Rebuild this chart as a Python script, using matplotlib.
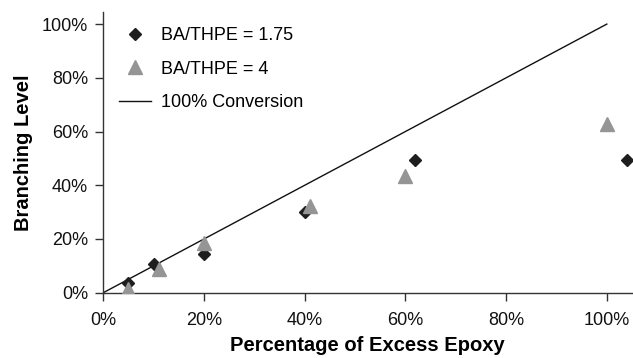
import matplotlib
matplotlib.use("Agg")
import matplotlib.pyplot as plt
from matplotlib.ticker import FuncFormatter

plt.rcParams['font.family'] = ['Liberation Sans', 'DejaVu Sans']

# Excess epoxy (fraction) vs. branching level (fraction)
excess_175 = [0.05, 0.10, 0.20, 0.40, 0.62, 1.04]
branch_175 = [0.035, 0.108, 0.144, 0.302, 0.493, 0.493]

excess_4 = [0.05, 0.11, 0.20, 0.41, 0.60, 1.00]
branch_4 = [0.013, 0.088, 0.186, 0.323, 0.435, 0.627]

conv_x = [0.0, 1.0]
conv_y = [0.0, 1.0]

x_ticks = [0, 0.2, 0.4, 0.6, 0.8, 1.0]
y_ticks = [0, 0.2, 0.4, 0.6, 0.8, 1.0]

W, H = 633, 358
fig = plt.figure(figsize=(W / 100, H / 100), dpi=100)
ax = fig.add_axes([103.3 / W, 1 - 292.7 / H, (632 - 103.3) / W, (292.7 - 12) / H])

ax.plot(excess_175, branch_175, linestyle='none', marker='D', markersize=6.2,
        color='#1e1e1e', label='BA/THPE = 1.75', zorder=3)
ax.plot(excess_4, branch_4, linestyle='none', marker='^', markersize=10.2,
        color='#959595', label='BA/THPE = 4', zorder=4)
ax.plot(conv_x, conv_y, color='#111111', linewidth=1.0, label='100% Conversion', zorder=2)

ax.set_xlim(0, 1.05)
ax.set_ylim(0, 1.045)
ax.set_xticks(x_ticks)
ax.set_yticks(y_ticks)
pct = FuncFormatter(lambda v, p: f"{v * 100:.0f}%")
ax.xaxis.set_major_formatter(pct)
ax.yaxis.set_major_formatter(pct)

for side in ('top', 'right'):
    ax.spines[side].set_visible(False)
for side in ('left', 'bottom'):
    ax.spines[side].set_color('#333333')
    ax.spines[side].set_linewidth(1.0)

ax.tick_params(axis='both', direction='out', length=6, width=1.0, color='#333333',
               labelsize=13, labelcolor='#111111')
ax.tick_params(axis='x', pad=8)
ax.tick_params(axis='y', pad=5)

ax.set_xlabel('Percentage of Excess Epoxy', fontsize=14.5, fontweight='bold', labelpad=5)
ax.set_ylabel('Branching Level', fontsize=14.5, fontweight='bold', labelpad=6)

ax.legend(loc='upper left', bbox_to_anchor=(0.0, 1.0), frameon=False, fontsize=13,
          handlelength=1.8, handletextpad=0.55, labelspacing=0.9, borderaxespad=0.45,
          numpoints=1)

fig.savefig('out.png', dpi=100)
